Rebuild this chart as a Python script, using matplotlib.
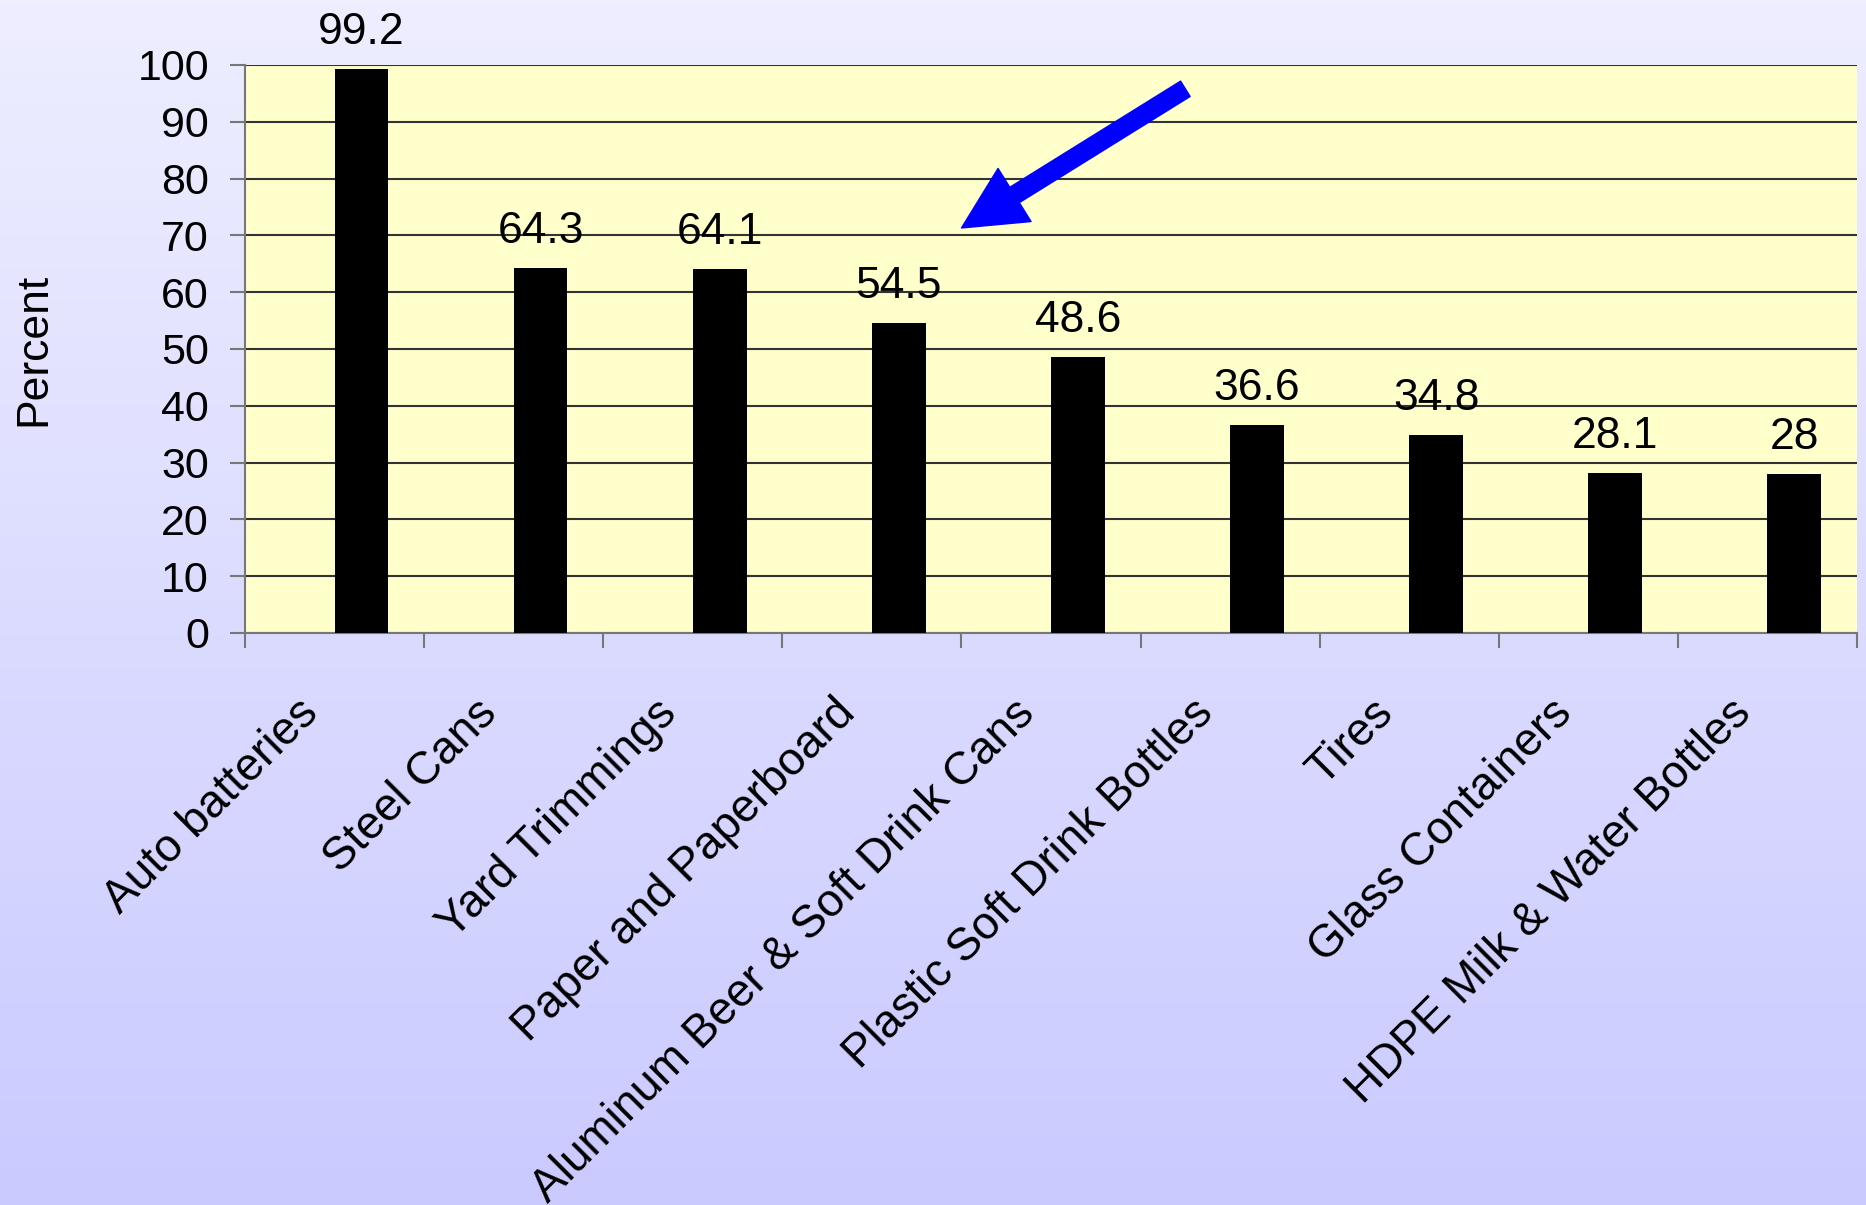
import numpy as np
import matplotlib
matplotlib.use('Agg')
import matplotlib.pyplot as plt
from matplotlib.ticker import FixedLocator

plt.rcParams['font.family'] = ['Liberation Sans', 'DejaVu Sans']

categories = ['Auto batteries', 'Steel Cans', 'Yard Trimmings', 'Paper and Paperboard',
              'Aluminum Beer & Soft Drink Cans', 'Plastic Soft Drink Bottles', 'Tires',
              'Glass Containers', 'HDPE Milk & Water Bottles']
values = [99.2, 64.3, 64.1, 54.5, 48.6, 36.6, 34.8, 28.1, 28]
value_labels = ['99.2', '64.3', '64.1', '54.5', '48.6', '36.6', '34.8', '28.1', '28']
y_ticks = [0, 10, 20, 30, 40, 50, 60, 70, 80, 90, 100]

fig = plt.figure(figsize=(18.66, 12.05), dpi=100)

# gradient background
bg = fig.add_axes([0, 0, 1, 1], zorder=-10)
grad = np.linspace(0, 1, 256).reshape(-1, 1)
top_col = np.array([238, 238, 255]) / 255
bot_col = np.array([202, 202, 255]) / 255
img = top_col[None, None, :] * (1 - grad[:, :, None]) + bot_col[None, None, :] * grad[:, :, None]
bg.imshow(img, aspect='auto', extent=[0, 1, 0, 1])
bg.axis('off')

ax = fig.add_axes([0.1313, 0.4747, 0.8639, 0.4714])
ax.set_facecolor('#FFFFCC')

x = np.arange(len(categories))
ax.bar(x, values, width=0.3, align='edge', color='black', zorder=3)

for xi, v, lab in zip(x, values, value_labels):
    ax.annotate(lab, (xi + 0.15, v), xytext=(0, 18), textcoords='offset points',
                ha='center', va='baseline', fontsize=32, zorder=4)

ax.set_xlim(-0.5, len(categories) - 0.5)
ax.set_ylim(0, 100)
ax.set_yticks(y_ticks)
ax.grid(axis='y', color='#333333', linewidth=1.5, zorder=1)

# category boundaries as major ticks, labels on minor ticks
ax.xaxis.set_major_locator(FixedLocator(np.arange(len(categories) + 1) - 0.5))
ax.xaxis.set_major_formatter(plt.NullFormatter())
ax.xaxis.set_minor_locator(FixedLocator(x - 0.13))
ax.set_xticklabels(categories, minor=True, rotation=45, ha='right', va='center',
                   rotation_mode='anchor', fontsize=33)
ax.tick_params(axis='x', which='minor', length=0, pad=53)
ax.tick_params(axis='x', which='major', length=11, width=1.5, color='#777777')
ax.tick_params(axis='y', length=11, width=1.5, color='#777777', labelsize=31, pad=15)

for side in ['top', 'right']:
    ax.spines[side].set_visible(False)
for side in ['left', 'bottom']:
    ax.spines[side].set_color('#777777')
    ax.spines[side].set_linewidth(1.5)

ax.set_ylabel('Percent', fontsize=32, labelpad=60)

# blue arrow
ax.annotate('', xy=(3.5, 71.3), xytext=(4.75, 95.8),
            arrowprops=dict(width=13, headwidth=45, headlength=45, color='#0000FF',
                            shrink=0), zorder=5)

fig.savefig('out.png', dpi=100)
